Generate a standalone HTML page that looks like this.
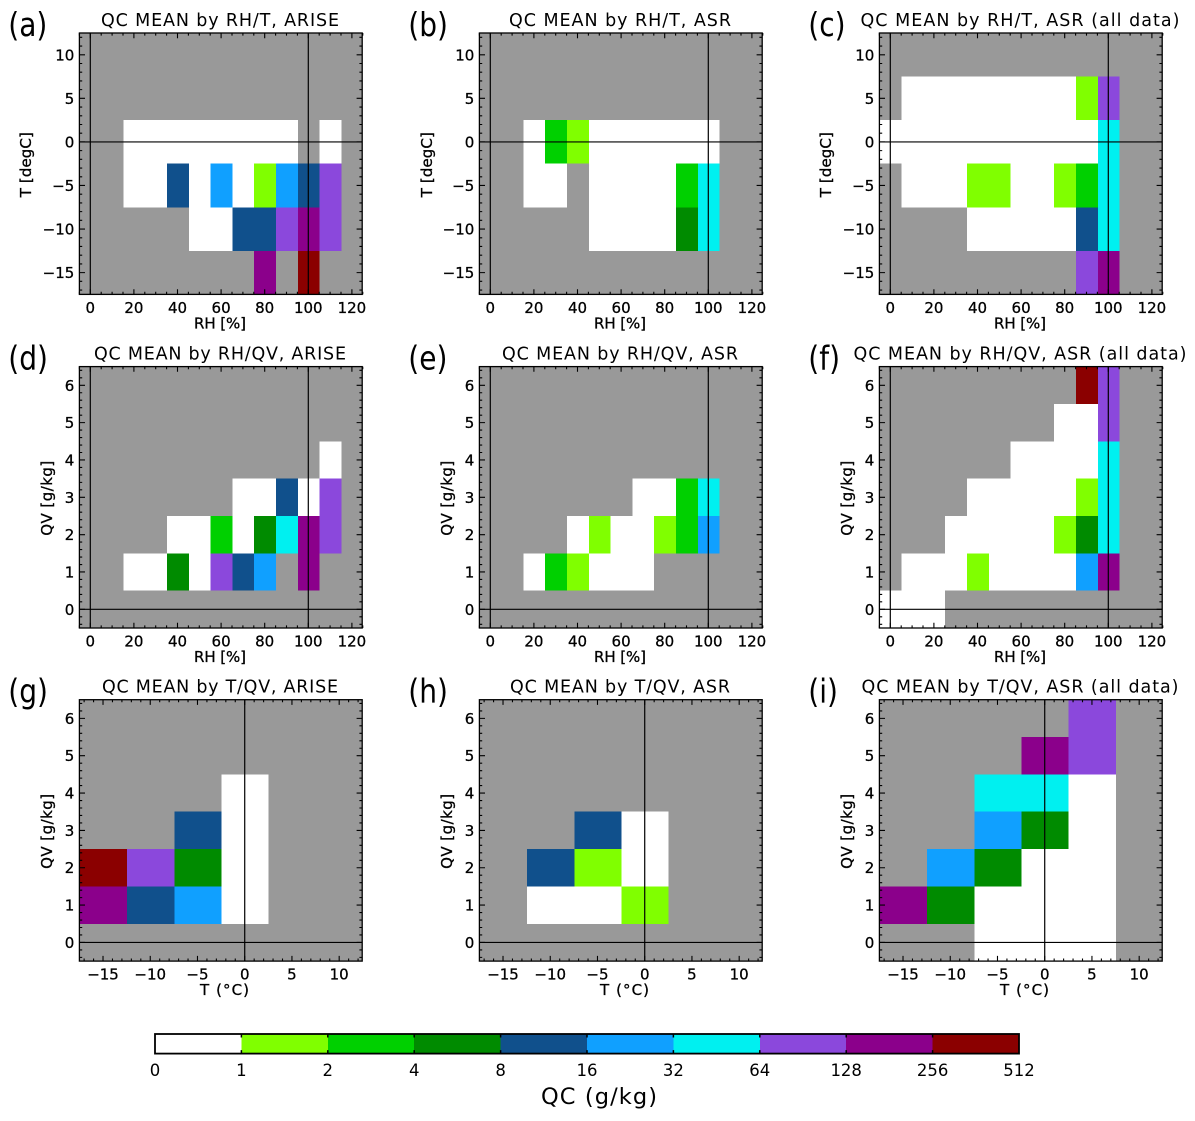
<!DOCTYPE html>
<html lang="en">
<head>
<meta charset="utf-8">
<title>QC MEAN panels</title>
<style>
html,body{margin:0;padding:0;background:#fff;width:1195px;height:1121px;overflow:hidden}
svg{display:block}
text{font-family:"DejaVu Sans","Liberation Sans",sans-serif;fill:#000}
</style>
</head>
<body>
<svg id="figure" xmlns="http://www.w3.org/2000/svg" width="1195" height="1121" viewBox="0 0 1195 1121"></svg>
<script>
const _ = null;
const rhBins = [0,10,20,30,40,50,60,70,80,90,100,110,120];
const tempBins = [-15,-10,-5,0,5,10];
const qvBins = [0,1,2,3,4,5,6];
const rhTicks = [0,20,40,60,80,100,120];
const tempTicks = [-15,-10,-5,0,5,10];
const qvTicks = [0,1,2,3,4,5,6];
const qcBoundaries = [0,1,2,4,8,16,32,64,128,256,512];
const qcColors = ['#ffffff','#80ff00','#00d000','#008b00','#10508c','#10a0ff','#00f0f0','#8b48dc','#8b008b','#8b0000'];

// rows follow tempBins, columns follow rhBins
const qcA = [
 [_,_,_,_,_,_,_,_,192,_,384,_,_],
 [_,_,_,_,_,0.5,0.5,12,12,96,192,96,_],
 [_,_,0.5,0.5,12,0.5,24,0.5,1.5,24,12,96,_],
 [_,_,0.5,0.5,0.5,0.5,0.5,0.5,0.5,0.5,_,0.5,_],
 [_,_,_,_,_,_,_,_,_,_,_,_,_],
 [_,_,_,_,_,_,_,_,_,_,_,_,_]
];
const qcB = [
 [_,_,_,_,_,_,_,_,_,_,_,_,_],
 [_,_,_,_,_,0.5,0.5,0.5,0.5,6,48,_,_],
 [_,_,0.5,0.5,_,0.5,0.5,0.5,0.5,3,48,_,_],
 [_,_,0.5,3,1.5,0.5,0.5,0.5,0.5,0.5,0.5,_,_],
 [_,_,_,_,_,_,_,_,_,_,_,_,_],
 [_,_,_,_,_,_,_,_,_,_,_,_,_]
];
const qcC = [
 [_,_,_,_,_,_,_,_,_,96,192,_,_],
 [_,_,_,_,0.5,0.5,0.5,0.5,0.5,12,48,_,_],
 [_,0.5,0.5,0.5,1.5,1.5,0.5,0.5,1.5,3,48,_,_],
 [0.5,0.5,0.5,0.5,0.5,0.5,0.5,0.5,0.5,0.5,48,_,_],
 [_,0.5,0.5,0.5,0.5,0.5,0.5,0.5,0.5,1.5,96,_,_],
 [_,_,_,_,_,_,_,_,_,_,_,_,_]
];
// rows follow qvBins, columns follow rhBins
const qcD = [
 [_,_,_,_,_,_,_,_,_,_,_,_,_],
 [_,_,0.5,0.5,6,0.5,96,12,24,_,192,_,_],
 [_,_,_,_,0.5,0.5,3,0.5,6,48,192,96,_],
 [_,_,_,_,_,_,_,0.5,0.5,12,0.5,96,_],
 [_,_,_,_,_,_,_,_,_,_,_,0.5,_],
 [_,_,_,_,_,_,_,_,_,_,_,_,_],
 [_,_,_,_,_,_,_,_,_,_,_,_,_]
];
const qcE = [
 [_,_,_,_,_,_,_,_,_,_,_,_,_],
 [_,_,0.5,3,1.5,0.5,0.5,0.5,_,_,_,_,_],
 [_,_,_,_,0.5,1.5,0.5,0.5,1.5,3,24,_,_],
 [_,_,_,_,_,_,_,0.5,0.5,3,48,_,_],
 [_,_,_,_,_,_,_,_,_,_,_,_,_],
 [_,_,_,_,_,_,_,_,_,_,_,_,_],
 [_,_,_,_,_,_,_,_,_,_,_,_,_]
];
const qcF = [
 [0.5,0.5,0.5,_,_,_,_,_,_,_,_,_,_],
 [_,0.5,0.5,0.5,1.5,0.5,0.5,0.5,0.5,24,192,_,_],
 [_,_,_,0.5,0.5,0.5,0.5,0.5,1.5,6,48,_,_],
 [_,_,_,_,0.5,0.5,0.5,0.5,0.5,1.5,48,_,_],
 [_,_,_,_,_,_,0.5,0.5,0.5,0.5,48,_,_],
 [_,_,_,_,_,_,_,_,0.5,0.5,96,_,_],
 [_,_,_,_,_,_,_,_,_,384,96,_,_]
];
// rows follow qvBins, columns follow tempBins
const qcG = [
 [_,_,_,_,_,_],
 [192,12,24,0.5,_,_],
 [384,96,6,0.5,_,_],
 [_,_,12,0.5,_,_],
 [_,_,_,0.5,_,_],
 [_,_,_,_,_,_],
 [_,_,_,_,_,_]
];
const qcH = [
 [_,_,_,_,_,_],
 [_,0.5,0.5,1.5,_,_],
 [_,12,1.5,0.5,_,_],
 [_,_,12,0.5,_,_],
 [_,_,_,_,_,_],
 [_,_,_,_,_,_],
 [_,_,_,_,_,_]
];
const qcI = [
 [_,_,0.5,0.5,0.5,_],
 [192,6,0.5,0.5,0.5,_],
 [_,24,6,0.5,0.5,_],
 [_,_,24,6,0.5,_],
 [_,_,48,48,0.5,_],
 [_,_,_,192,96,_],
 [_,_,_,_,96,_]
];
const panelTitles = ['QC MEAN by RH/T, ARISE','QC MEAN by RH/T, ASR','QC MEAN by RH/T, ASR (all data)',
 'QC MEAN by RH/QV, ARISE','QC MEAN by RH/QV, ASR','QC MEAN by RH/QV, ASR (all data)',
 'QC MEAN by T/QV, ARISE','QC MEAN by T/QV, ASR','QC MEAN by T/QV, ASR (all data)'];
const panelLetters = ['(a)','(b)','(c)','(d)','(e)','(f)','(g)','(h)','(i)'];
const colorbarLabels = ['0','1','2','4','8','16','32','64','128','256','512'];

const svg = document.getElementById('figure');
const NS = 'http://www.w3.org/2000/svg';
function mk(tag, attrs, parent, txt) {
  const el = document.createElementNS(NS, tag);
  for (const k in attrs) el.setAttribute(k, attrs[k]);
  if (txt !== undefined) el.textContent = txt;
  parent.appendChild(el);
  return el;
}
function colorFor(v) {
  let i = qcBoundaries.length - 2;
  while (i > 0 && v < qcBoundaries[i]) i--;
  return qcColors[i];
}
function fmt(v) { return String(v).replace('-', '\u2212'); }

const W = 283.4, H = 261.4;
const lefts = [79.8, 479.8, 879.8];
const tops = [33, 366.6, 699.7];
const titleWidths = [238,222,319, 252,236,333, 236,220,317];
const yTitleX = [26,427,826, 47,447,847, 47,447,847];

const rhAxis = {min:-5, max:125, ticks:rhTicks, minor:5, half:5, bins:rhBins, title:'RH [%]', titleW:52, titleDx:0};
const tAxisX = {min:-17.5, max:12.5, ticks:tempTicks, minor:1, half:2.5, bins:tempBins, title:'T (\u00b0C)', titleW:49, titleDx:4.5};
const tAxisY = {min:-17.5, max:12.5, ticks:tempTicks, minor:1, half:2.5, bins:tempBins, title:'T [degC]', titleW:65};
const qvAxis = {min:-0.5, max:6.5, ticks:qvTicks, minor:0.2, half:0.5, bins:qvBins, title:'QV [g/kg]', titleW:75};

const layouts = [
 {q:qcA,x:rhAxis,y:tAxisY,vl:[0,100]},{q:qcB,x:rhAxis,y:tAxisY,vl:[0,100]},{q:qcC,x:rhAxis,y:tAxisY,vl:[0,100]},
 {q:qcD,x:rhAxis,y:qvAxis,vl:[0,100]},{q:qcE,x:rhAxis,y:qvAxis,vl:[0,100]},{q:qcF,x:rhAxis,y:qvAxis,vl:[0,100]},
 {q:qcG,x:tAxisX,y:qvAxis,vl:[0]},{q:qcH,x:tAxisX,y:qvAxis,vl:[0]},{q:qcI,x:tAxisX,y:qvAxis,vl:[0]}
];

layouts.forEach(function (p, idx) {
  const col = idx % 3, row = Math.floor(idx / 3);
  const L = lefts[col], T = tops[row];
  const xs = function (v) { return L + (v - p.x.min) / (p.x.max - p.x.min) * W; };
  const ys = function (v) { return T + H - (v - p.y.min) / (p.y.max - p.y.min) * H; };
  const id = panelLetters[idx].charAt(1);

  const g = mk('g', {}, svg);
  
  

  const bg = mk('rect', {x:L - 0.4, y:T, width:W - 0.6, height:H, fill:'#999999'}, g);
  
  

  p.q.forEach(function (rowVals, r) {
    rowVals.forEach(function (v, c) {
      if (v === null) return;
      const xa = Math.max(L - 0.4, xs(p.x.bins[c] - p.x.half));
      const xb = Math.min(L + W - 1, xs(p.x.bins[c] + p.x.half));
      const ya = Math.max(T, ys(p.y.bins[r] + p.y.half));
      const yb = Math.min(T + H, ys(p.y.bins[r] - p.y.half));
      const cell = mk('rect', {x:xa, y:ya, width:xb - xa, height:yb - ya, fill:colorFor(v), 'shape-rendering':'crispEdges'}, g);
      
      
    });
  });

  p.vl.forEach(function (v) {
    const ln = mk('line', {x1:xs(v) - 0.4, x2:xs(v) - 0.4, y1:T, y2:T + H, stroke:'#000', 'stroke-width':1.2}, g);
    
    
  });
  const hl = mk('line', {x1:L, x2:L + W - 1, y1:ys(0), y2:ys(0), stroke:'#000', 'stroke-width':1.2}, g);
  
  

  // minor ticks
  let d = '';
  const nx = Math.round((p.x.max - p.x.min) / p.x.minor);
  const xStart = Math.ceil(p.x.min / p.x.minor - 1e-6) * p.x.minor;
  for (let i = 0; i <= nx; i++) {
    const v = xStart + i * p.x.minor;
    if (v > p.x.max) break;
    const px = xs(v) - 0.4;
    d += 'M' + px + ' ' + (T + H) + 'v-2.6M' + px + ' ' + T + 'v2.6';
  }
  const ny = Math.round((p.y.max - p.y.min) / p.y.minor);
  const yStart = Math.ceil(p.y.min / p.y.minor - 1e-6) * p.y.minor;
  for (let i = 0; i <= ny; i++) {
    const v = yStart + i * p.y.minor;
    if (v > p.y.max + 1e-6) break;
    const py = ys(v);
    d += 'M' + (L - 0.4) + ' ' + py + 'h2.8M' + (L + W - 1) + ' ' + py + 'h-2.8';
  }
  // major ticks
  p.x.ticks.forEach(function (v) {
    const px = xs(v) - 0.4;
    d += 'M' + px + ' ' + (T + H) + 'v-5.2M' + px + ' ' + T + 'v5.2';
  });
  p.y.ticks.forEach(function (v) {
    const py = ys(v);
    d += 'M' + (L - 0.4) + ' ' + py + 'h5.6M' + (L + W - 1) + ' ' + py + 'h-5.6';
  });
  const tk = mk('path', {d:d, stroke:'#000', 'stroke-width':1.1, fill:'none'}, g);
  
  

  const fr = mk('rect', {x:L - 0.4, y:T, width:W - 0.6, height:H, fill:'none', stroke:'#000', 'stroke-width':1.3}, g);
  
  

  p.x.ticks.forEach(function (v) {
    const t = mk('text', {x:xs(v) - 0.4, y:T + H + 18.5, 'text-anchor':'middle', 'font-size':15, stroke:'#000', 'stroke-width':0.3}, g, fmt(v));
    
    
  });
  p.y.ticks.forEach(function (v) {
    const t = mk('text', {x:L - 5.5, y:ys(v) + 5.5, 'text-anchor':'end', 'font-size':15, stroke:'#000', 'stroke-width':0.3}, g, fmt(v));
    
    
  });

  const xt = mk('text', {x:L + W / 2 - 1.5 + p.x.titleDx, y:T + H + 34, 'text-anchor':'middle', 'font-size':15, stroke:'#000', 'stroke-width':0.3, textLength:p.x.titleW, lengthAdjust:'spacing'}, g, p.x.title);
  
  

  const ytx = yTitleX[idx], yty = T + H / 2 + 1;
  const yt = mk('text', {x:ytx + 5, y:yty, 'text-anchor':'middle', 'font-size':15, stroke:'#000', 'stroke-width':0.3, textLength:p.y.titleW, lengthAdjust:'spacing', transform:'rotate(-90 ' + (ytx + 5) + ' ' + yty + ')'}, g, p.y.title);
  
  

  const tt = mk('text', {x:L + W / 2 - 1.5, y:T - 7, 'text-anchor':'middle', 'font-size':17.5, textLength:titleWidths[idx], lengthAdjust:'spacing'}, g, panelTitles[idx]);
  
  

  const lt = mk('text', {'font-size':33, transform:'translate(' + (L - 71.5) + ' ' + (T + 3) + ') scale(0.85 1)'}, g, panelLetters[idx]);
  
  
});

// colour bar
const cbLeft = 155, cbRight = 1019, cbTop = 1034, cbBottom = 1053.6;
const cb = mk('g', {}, svg);


const cbStep = (cbRight - cbLeft) / qcColors.length;
qcColors.forEach(function (c, i) {
  const s = mk('rect', {x:cbLeft + i * cbStep, y:cbTop, width:cbStep, height:cbBottom - cbTop, fill:c, 'shape-rendering':'crispEdges'}, cb);
  
  
});
let cbd = '';
for (let i = 1; i < qcColors.length; i++) {
  const px = cbLeft + i * cbStep;
  cbd += 'M' + px + ' ' + cbTop + 'v3.5M' + px + ' ' + cbBottom + 'v-3.5';
}
const cbt = mk('path', {d:cbd, stroke:'#000', 'stroke-width':1.5, fill:'none'}, cb);


const cbf = mk('rect', {x:cbLeft, y:cbTop, width:cbRight - cbLeft, height:cbBottom - cbTop, fill:'none', stroke:'#000', 'stroke-width':1.8}, cb);


colorbarLabels.forEach(function (s, i) {
  const t = mk('text', {x:cbLeft + i * cbStep, y:1076, 'text-anchor':'middle', 'font-size':16.5}, cb, s);
  
  
});
const cbTitle = mk('text', {x:599, y:1104, 'text-anchor':'middle', 'font-size':22.5, textLength:116, lengthAdjust:'spacing'}, cb, 'QC (g/kg)');


</script>
</body>
</html>
